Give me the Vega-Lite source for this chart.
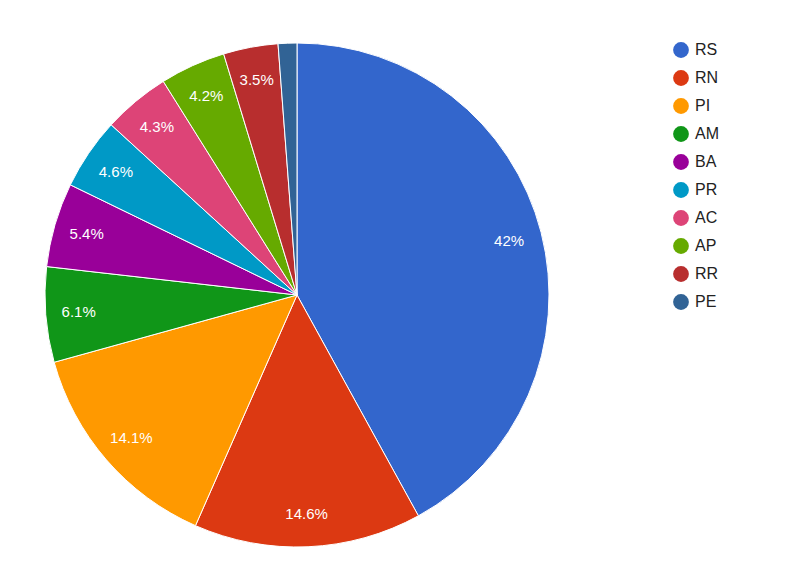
{
  "$schema": "https://vega.github.io/schema/vega-lite/v6.json",
  "autosize": "none",
  "padding": {"left": 0, "top": 0, "right": 218, "bottom": 0},
  "width": 594,
  "height": 590,
  "background": "white",
  "data": {
    "values": [
      {"state": "RS", "value": 42.0, "label": "42%", "idx": 1},
      {"state": "RN", "value": 14.6, "label": "14.6%", "idx": 2},
      {"state": "PI", "value": 14.1, "label": "14.1%", "idx": 3},
      {"state": "AM", "value": 6.1, "label": "6.1%", "idx": 4},
      {"state": "BA", "value": 5.4, "label": "5.4%", "idx": 5},
      {"state": "PR", "value": 4.6, "label": "4.6%", "idx": 6},
      {"state": "AC", "value": 4.3, "label": "4.3%", "idx": 7},
      {"state": "AP", "value": 4.2, "label": "4.2%", "idx": 8},
      {"state": "RR", "value": 3.5, "label": "3.5%", "idx": 9},
      {"state": "PE", "value": 1.2, "label": "", "idx": 10}
    ]
  },
  "encoding": {
    "theta": {"field": "value", "type": "quantitative", "stack": true},
    "order": {"field": "idx", "type": "quantitative", "sort": "ascending"}
  },
  "layer": [
    {
      "mark": {"type": "arc", "outerRadius": 252, "stroke": "white", "strokeWidth": 1},
      "encoding": {
        "color": {
          "field": "state",
          "type": "nominal",
          "scale": {
            "domain": ["RS", "RN", "PI", "AM", "BA", "PR", "AC", "AP", "RR", "PE"],
            "range": ["#3366cc", "#dc3912", "#ff9900", "#109618", "#990099", "#0099c6", "#dd4477", "#66aa00", "#b82e2e", "#316395"]
          },
          "legend": {
            "title": null,
            "orient": "none",
            "legendX": 673,
            "legendY": 42,
            "symbolType": "circle",
            "symbolSize": 250,
            "symbolStrokeWidth": 0,
            "symbolOpacity": 1,
            "labelFont": "Liberation Sans",
            "labelFontSize": 16,
            "labelColor": "#222222",
            "labelOffset": 6,
            "rowPadding": 12,
            "symbolOffset": 0
          }
        }
      }
    },
    {
      "mark": {"type": "text", "radius": 219, "font": "Liberation Sans", "fontSize": 15, "fill": "white"},
      "encoding": {"text": {"field": "label", "type": "nominal"}}
    }
  ]
}
